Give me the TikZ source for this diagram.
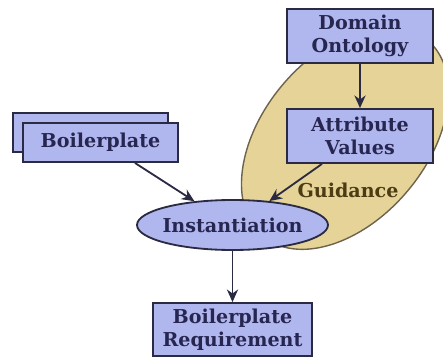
\documentclass[tikz,border=0pt]{standalone}
\usepackage{fontspec}
\setmainfont{DejaVu Serif}
\usetikzlibrary{arrows.meta, positioning, shapes.geometric}
\definecolor{lav}{RGB}{176, 182, 238}
\definecolor{edge}{RGB}{42, 42, 66}
\definecolor{ink}{RGB}{38, 38, 80}
\definecolor{tan}{RGB}{230, 211, 152}
\definecolor{tanline}{RGB}{110, 100, 78}
\definecolor{guide}{RGB}{75, 60, 20}

\begin{document}
\begin{tikzpicture}[
    >={Stealth[length=9pt, width=8pt]},
    box/.style={rectangle, draw=edge, fill=lav, line width=1.3pt,
      minimum width=3.65cm, minimum height=1.35cm, align=center,
      font=\fontsize{13.6}{16}\selectfont\bfseries, text=ink},
    oval/.style={ellipse, draw=edge, fill=lav, line width=1.3pt,
      minimum width=4.775cm, minimum height=1.25cm, inner xsep=-0.07cm, inner ysep=0pt,
      font=\fontsize{13.6}{16}\selectfont\bfseries, text=ink},
    flow/.style={->, edge, line width=1.3pt}
  ]
  \useasboundingbox (0,0) rectangle (11.075,9.025);
  \draw[fill=tan, draw=tanline, line width=1pt, rotate around={50:(8.625,5.575)}]
    (8.625,5.575) ellipse (3.2cm and 2.05cm);
  \node[box] (dom) at (9.0,8.125) {Domain\\Ontology};
  \node[box] (attr) at (9.0,5.625) {Attribute\\Values};
  \node[box, minimum width=3.875cm, minimum height=0.975cm] (bpback) at (2.2625,5.7125) {};
  \node[box, minimum width=3.875cm, minimum height=0.975cm] (bp) at (2.5125,5.4625) {Boilerplate};
  \node[oval] (inst) at (5.8125,3.4) {Instantiation};
  \node[box, minimum width=3.975cm, minimum height=1.325cm] (req) at (5.8125,0.7875) {Boilerplate\\Requirement};
  \node[font=\fontsize{13.6}{16}\selectfont\bfseries, text=guide] (guid) at (8.7,4.275) {Guidance};
  \draw[flow] (dom) -- (attr);
  \draw[flow] ([xshift=-0.95cm]attr.south) -- (inst.33);
  \draw[flow] ([xshift=0.86cm]bp.south) -- (inst.148);
  \draw[flow] (inst) -- (req);
\end{tikzpicture}
\end{document}
